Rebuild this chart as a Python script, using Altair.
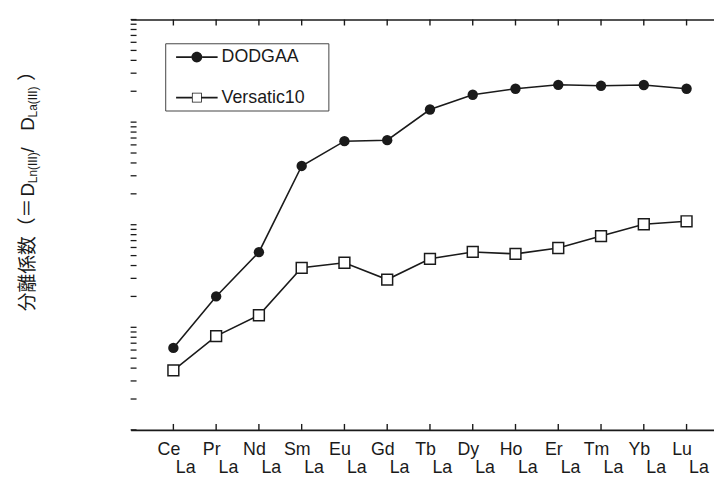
import altair as alt
import pandas as pd

# ---------------- data ----------------
elements = ["Ce", "Pr", "Nd", "Sm", "Eu", "Gd", "Tb", "Dy", "Ho", "Er", "Tm", "Yb", "Lu"]
denominator = "La"
series_names = ["DODGAA", "Versatic10"]
dodgaa = [6.3, 20, 54, 374, 652, 667, 1327, 1850, 2115, 2310, 2260, 2300, 2115]
versatic = [3.8, 8.2, 13.1, 38, 42.6, 29.2, 46.5, 54.3, 52, 59.3, 77.5, 101, 108]
y_major = [1, 10, 100, 1000, 10000]
y_major_labels = ["10\u2070", "10\u00b9", "10\u00b2", "10\u00b3", "10\u2074"]

x_ticks = list(range(1, len(elements) + 1))
y_ticks = [m * 10 ** k for k in range(4) for m in range(1, 10)] + [10 ** 4]

rows = []
for i, el in enumerate(elements):
    rows.append({"idx": i + 1, "series": series_names[0], "value": dodgaa[i]})
    rows.append({"idx": i + 1, "series": series_names[1], "value": versatic[i]})
df = pd.DataFrame(rows)

# ---------------- layout ----------------
PAD_LEFT, PAD_TOP = 124, 9
W, H = 590, 415
STEP = 43.25                      # px per element
DECADE = H / 4.0                  # px per decade
TICK = 6.0                        # inward tick length, px
XMAX = W / STEP
INK = "#1a1a1a"
LATIN = "Liberation Sans"
CJK = "Noto Sans CJK JP"

xscale = alt.Scale(domain=[0, XMAX], nice=False, zero=False)
yscale = alt.Scale(type="log", domain=[1, 10000], nice=False)

elem_js = "[" + ",".join("'%s'" % e for e in elements) + "]"
x_label_expr = "%s[datum.value-1]" % elem_js
y_label_expr = "".join(
    "datum.value == %d ? '%s' : " % (v, s) for v, s in zip(y_major, y_major_labels)
) + "''"

ax_bottom = alt.Axis(
    orient="bottom", values=x_ticks, ticks=False, domain=True, domainColor=INK,
    domainWidth=1.6, grid=False, title=None, labelExpr=x_label_expr, labelFont=LATIN,
    labelFontSize=18, labelColor=INK, labelPadding=11, labelOffset=-5,
    labelOverlap=False, labelFlush=False, labelBaseline="top",
)
ax_bottom2 = alt.Axis(
    orient="bottom", values=x_ticks, ticks=False, domain=False, grid=False, title=None,
    labelExpr="'%s'" % denominator, labelFont=LATIN, labelFontSize=18, labelColor=INK,
    labelPadding=29, labelOffset=12, labelOverlap=False, labelFlush=False,
    labelBaseline="top",
)
ax_top = alt.Axis(
    orient="top", domain=True, domainColor=INK, domainWidth=1.6, ticks=False,
    labels=False, grid=False, title=None,
)
ax_left = alt.Axis(
    orient="left", values=y_major, ticks=False, domain=True, domainColor=INK,
    domainWidth=1.6, grid=False, title=None, labelExpr=y_label_expr, labelFont=LATIN,
    labelFontSize=19, labelColor=INK, labelPadding=10, labelOverlap=False, labelFlush=False,
)

# inward tick marks (rules drawn through the scales), placed first like a plain layer
tick_up = 10 ** (TICK / DECADE)
xt = pd.DataFrame({"idx": x_ticks})
yt = pd.DataFrame({"value": y_ticks})
ticks_bottom = alt.Chart(xt).transform_calculate(y0="1", y1=str(tick_up)).mark_rule(
    color=INK, strokeWidth=1.4
).encode(
    x=alt.X("idx:Q", scale=xscale, axis=None),
    y=alt.Y("y0:Q", scale=yscale, axis=None), y2="y1:Q",
)
ticks_top = alt.Chart(xt).transform_calculate(t0="10000", t1=str(10000 / tick_up)).mark_rule(
    color=INK, strokeWidth=1.4
).encode(
    x=alt.X("idx:Q", scale=xscale, axis=None),
    y=alt.Y("t0:Q", scale=yscale, axis=None), y2="t1:Q",
)
ticks_left = alt.Chart(yt).transform_calculate(x0="0", x1=str(TICK / STEP)).mark_rule(
    color=INK, strokeWidth=1.3
).encode(
    x=alt.X("x0:Q", scale=xscale, axis=None), x2="x1:Q",
    y=alt.Y("value:Q", scale=yscale, axis=None),
)

base = alt.Chart(df)

lines = base.mark_line(color=INK, strokeWidth=1.6).encode(
    x=alt.X("idx:Q", scale=xscale, axis=ax_bottom),
    y=alt.Y("value:Q", scale=yscale, axis=ax_left),
    detail="series:N",
)

pts_a = base.transform_filter(alt.datum.series == series_names[0]).mark_point(
    shape="circle", filled=True, color=INK, size=110, opacity=1
).encode(
    x=alt.X("idx:Q", scale=xscale, axis=ax_bottom2),
    y=alt.Y("value:Q", scale=yscale, axis=None),
)

pts_b = base.transform_filter(alt.datum.series == series_names[1]).mark_point(
    shape="square", filled=True, fill="white", stroke=INK, strokeWidth=1.5, size=120, opacity=1
).encode(
    x=alt.X("idx:Q", scale=xscale, axis=ax_top),
    y=alt.Y("value:Q", scale=yscale, axis=None),
)

# legend symbols: line + marker drawn as filled shapes (unit = sqrt(size)/2 px)
bars = "M-0.3,-0.08H1.25V0.08H-0.3ZM2.35,-0.08H3.9V0.08H2.35Z"
path_a = bars + "M1.25,0A0.55,0.55 0 1,0 2.35,0A0.55,0.55 0 1,0 1.25,0ZM14.7,0"
path_b = (bars.replace("1.25", "1.35").replace("2.35", "2.25")
          + "M1.3,-0.5H2.3V0.5H1.3ZM1.38,-0.42V0.42H2.22V-0.42ZM14.7,0")
leg = alt.Legend(
    orient="none", legendX=35, legendY=24, title=None, strokeColor="#444",
    padding=4, labelFont=LATIN, labelFontSize=18, labelColor=INK, labelOffset=33,
    rowPadding=22, symbolSize=400, symbolFillColor=INK, symbolStrokeWidth=0,
    symbolOpacity=1,
)
legend_layer = base.transform_filter("false").mark_point(
    filled=True, color=INK, size=400, opacity=1
).encode(
    x=alt.X("idx:Q", scale=xscale, axis=None),
    y=alt.Y("value:Q", scale=yscale, axis=None),
    shape=alt.Shape("series:N", scale=alt.Scale(domain=series_names, range=[path_a, path_b]),
                    legend=leg),
)

# rotated y-axis title made of segments (main text + subscripts)
one = pd.DataFrame({"k": [0]})
title_x = 28 - 132
y_pos = 312 - 17
segments = [
    ("分離係数（＝", CJK, 19, 116, 0),
    ("D", LATIN, 19, 13.5, 0),
    ("Ln(III)", LATIN, 12, 31, 5),
    ("\u00a0/\u00a0", LATIN, 19, 22, 0),
    ("D", LATIN, 19, 13.5, 0),
    ("La(III)", LATIN, 12, 37, 5),
    ("）", CJK, 19, 19, 0),
]
title_layers = []
for text, font, size, length, shift in segments:
    title_layers.append(
        alt.Chart(one).mark_text(
            angle=270, align="left", baseline="middle", font=font, fontSize=size, color=INK
        ).encode(x=alt.value(title_x + shift), y=alt.value(y_pos), text=alt.value(text))
    )
    y_pos -= length

chart = alt.layer(
    ticks_bottom, ticks_top, ticks_left, lines, pts_a, pts_b, legend_layer, *title_layers
).resolve_axis(
    x="independent"
).properties(
    width=W, height=H,
    padding={"left": PAD_LEFT, "top": PAD_TOP, "right": 0, "bottom": 48},
    autosize=alt.AutoSizeParams(type="none"),
).configure_view(stroke="transparent")

chart.save("out.html", embed_options={"renderer": "svg", "actions": False})
